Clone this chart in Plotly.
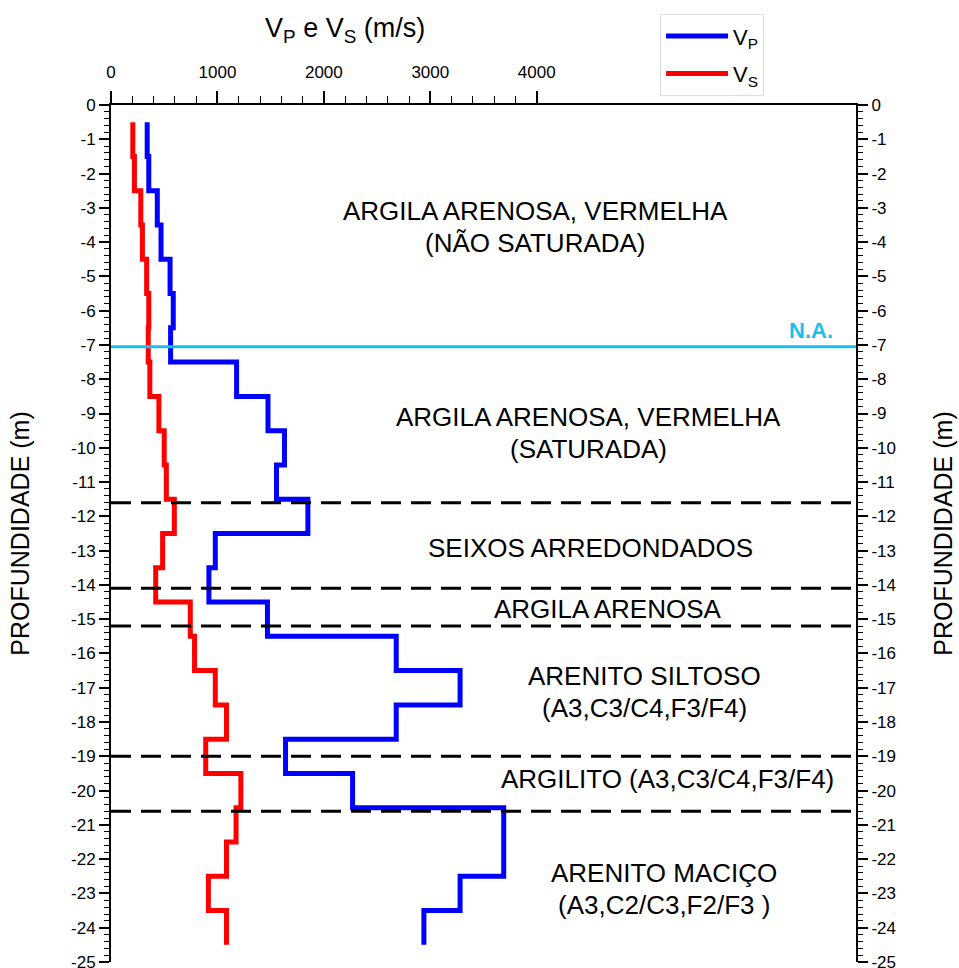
import plotly.graph_objects as go

# Layer tops (m), one layer per metre from -0.5 down to -24.5
depth = [-0.5, -1.5, -2.5, -3.5, -4.5, -5.5, -6.5, -7.5, -8.5, -9.5, -10.5, -11.5,
         -12.5, -13.5, -14.5, -15.5, -16.5, -17.5, -18.5, -19.5, -20.5, -21.5,
         -22.5, -23.5, -24.5]

# P-wave velocity per layer (m/s)
vp = [340, 355, 435, 470, 555, 585, 560, 1180, 1475, 1630, 1555, 1850,
      980, 920, 1470, 2680, 3280, 2680, 1640, 2270, 3690, 3690, 3280, 2940]

# S-wave velocity per layer (m/s)
vs = [205, 220, 280, 295, 335, 355, 350, 365, 450, 500, 520, 595,
      485, 420, 745, 785, 980, 1085, 890, 1220, 1175, 1085, 915, 1085]

# Water table depth and stratigraphic contacts (m)
water_table = -7.05
contacts = [-11.6, -14.1, -15.2, -19.0, -20.6]

# Lithology labels: (velocity position, depth position, text lines)
layers = [
    (3984, -3.56, ["ARGILA ARENOSA, VERMELHA", "(NÃO SATURADA)"]),
    (4482, -9.58, ["ARGILA ARENOSA, VERMELHA", "(SATURADA)"]),
    (4510, -12.92, ["SEIXOS ARREDONDADOS"]),
    (4670, -14.70, ["ARGILA ARENOSA"]),
    (5017, -17.12, ["ARENITO SILTOSO", "(A3,C3/C4,F3/F4)"]),
    (5233, -19.66, ["ARGILITO (A3,C3/C4,F3/F4)"]),
    (5196, -22.87, ["ARENITO MACIÇO", "(A3,C2/C3,F2/F3 )"]),
]

x_ticks = [0, 1000, 2000, 3000, 4000]
x_minor = [v for v in range(200, 4000, 200) if v % 1000]
y_ticks = list(range(0, -26, -1))
y_text = [str(v) for v in y_ticks]

FONT = "Arial, Liberation Sans, sans-serif"
LINE_GAP = 32  # px between the two lines of a lithology label

fig = go.Figure()
fig.add_trace(go.Scatter(
    x=vp + [vp[-1]], y=depth, mode="lines", line_shape="vh",
    line=dict(color="#0000FF", width=5), name="V<sub>P</sub>",
    legendgroup="p",
))
fig.add_trace(go.Scatter(
    x=vs + [vs[-1]], y=depth, mode="lines", line_shape="vh",
    line=dict(color="#FF0000", width=5), name="V<sub>S</sub>",
    legendgroup="s",
))
# invisible trace that carries the right-hand depth axis
fig.add_trace(go.Scatter(
    x=[0], y=[0], yaxis="y2", mode="markers", marker=dict(opacity=0),
    showlegend=False, hoverinfo="skip",
))

for c in contacts:
    fig.add_shape(type="line", xref="paper", x0=0, x1=1, y0=c, y1=c,
                  line=dict(color="black", width=3, dash="20px,10px"))
fig.add_shape(type="line", xref="paper", x0=0, x1=1, y0=water_table, y1=water_table,
              line=dict(color="#18BFF0", width=3))

fig.add_annotation(x=0.972, xref="paper", y=water_table, yref="y",
                   xanchor="right", yanchor="bottom", yshift=2, showarrow=False,
                   text="<b>N.A.</b>", font=dict(family=FONT, size=22, color="#18BFF0"))

for xv, yv, lines in layers:
    n = len(lines)
    for i, t in enumerate(lines):
        shift = ((n - 1) / 2 - i) * LINE_GAP
        fig.add_annotation(x=xv, y=yv, text=t, showarrow=False, yshift=shift,
                           xanchor="center", yanchor="middle",
                           font=dict(family=FONT, size=26, color="black"))

fig.add_annotation(x=0.314, xref="paper", y=1.0875, yref="paper",
                   xanchor="center", yanchor="middle",
                   text="V<sub>P</sub> e V<sub>S</sub> (m/s)", showarrow=False,
                   font=dict(family=FONT, size=27, color="black"))

yaxis_common = dict(
    range=[-25, 0], tickmode="array", tickvals=y_ticks, ticktext=y_text,
    ticks="outside", ticklen=10, tickwidth=1.5, tickcolor="black",
    showline=True, linecolor="black", linewidth=2, showgrid=False, zeroline=False,
    ticklabeloverflow="allow", automargin=False,
    tickfont=dict(family=FONT, size=17, color="black"),
    minor=dict(tickmode="linear", tick0=0, dtick=0.2, ticks="outside",
               ticklen=5, tickwidth=1, tickcolor="black", showgrid=False),
)

fig.update_layout(
    width=959, height=968,
    margin=dict(l=111, r=103, t=105, b=6, autoexpand=False),
    paper_bgcolor="white", plot_bgcolor="white",
    xaxis=dict(
        side="top", range=[0, 7000], tickmode="array", tickvals=x_ticks,
        ticks="outside", ticklen=12, tickwidth=1.5, tickcolor="black",
        showline=True, linecolor="black", linewidth=2, showgrid=False, zeroline=False,
        ticklabelstandoff=6, automargin=False,
        tickfont=dict(family=FONT, size=17, color="black"),
        minor=dict(tickmode="array", tickvals=x_minor, ticks="outside",
                   ticklen=7, tickwidth=1, tickcolor="black", showgrid=False),
    ),
    yaxis=dict(yaxis_common,
               title=dict(text="PROFUNDIDADE (m)", standoff=34,
                          font=dict(family=FONT, size=25, color="black"))),
    yaxis2=dict(yaxis_common, overlaying="y", side="right",
                title=dict(text="PROFUNDIDADE (m)", standoff=40,
                           font=dict(family=FONT, size=25, color="black"))),
    showlegend=True,
    legend=dict(
        x=0.737, y=1.106, xanchor="left", yanchor="top",
        bgcolor="white", bordercolor="#DDDDDD", borderwidth=1,
        font=dict(family=FONT, size=22, color="black"),
        traceorder="grouped", tracegroupgap=6, itemwidth=62,
    ),
)

fig.write_html("out.html")
